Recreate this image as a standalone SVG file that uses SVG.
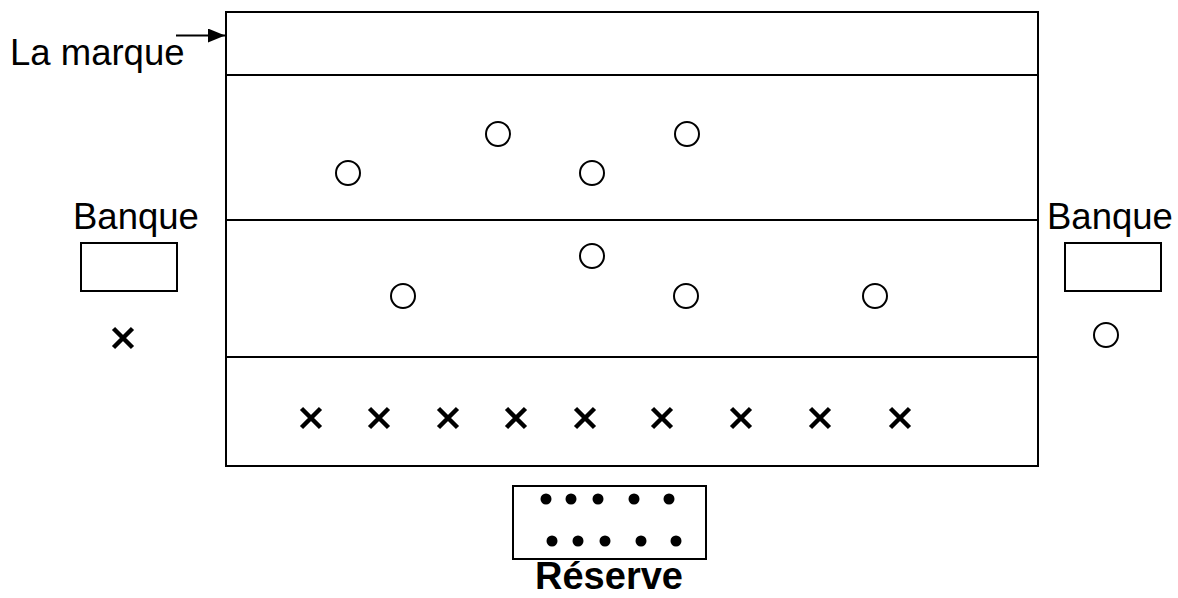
<svg xmlns="http://www.w3.org/2000/svg" width="1178" height="598" viewBox="0 0 1178 598">
  <defs>
    <marker id="arrow" viewBox="0 0 10 10" refX="10" refY="5" markerWidth="17" markerHeight="14" markerUnits="userSpaceOnUse" orient="auto" preserveAspectRatio="none">
      <path d="M0,0 L10,5 L0,10 Z" fill="#000"/>
    </marker>
    <g id="cross">
      <path d="M-9.5,-9.5 L9.5,9.5 M9.5,-9.5 L-9.5,9.5" stroke="#000" stroke-width="4.5" fill="none"/>
    </g>
  </defs>
  <style>
    .box { fill: #fff; stroke: #000; stroke-width: 2; }
    .line { stroke: #000; stroke-width: 2; fill: none; }
    .ring { fill: none; stroke: #000; stroke-width: 2; }
    .dot { fill: #000; }
    .label { font-family: "Liberation Sans", Arial, sans-serif; font-size: 36.5px; fill: #000; }
    .bold { font-weight: bold; font-size: 38px; }
  </style>
  <rect width="1178" height="598" fill="#fff"/>

  <!-- playing field with its bands -->
  <g id="field">
    <rect class="box" x="226" y="12" width="812" height="454"/>
    <line class="line" x1="226" y1="75" x2="1038" y2="75"/>
    <line class="line" x1="226" y1="220" x2="1038" y2="220"/>
    <line class="line" x1="226" y1="357" x2="1038" y2="357"/>
  </g>

  <g id="connectors">
    <line class="line" x1="176" y1="35.5" x2="225" y2="35.5" marker-end="url(#arrow)"/>
  </g>

  <g id="label-marque">
    <text class="label" x="10" y="65">La marque</text>
  </g>

  <!-- benches -->
  <g id="bench-left">
    <text class="label" x="73" y="229">Banque</text>
    <rect class="box" x="81" y="243" width="96" height="48"/>
    <use href="#cross" x="123" y="338"/>
  </g>
  <g id="bench-right">
    <text class="label" x="1047" y="229">Banque</text>
    <rect class="box" x="1065" y="243" width="96" height="48"/>
    <circle class="ring" cx="1106" cy="335" r="12"/>
  </g>

  <!-- players: circles -->
  <g id="circles">
    <circle class="ring" cx="348" cy="173" r="12"/>
    <circle class="ring" cx="498" cy="134" r="12"/>
    <circle class="ring" cx="592" cy="173" r="12"/>
    <circle class="ring" cx="687" cy="134" r="12"/>
    <circle class="ring" cx="592" cy="256" r="12"/>
    <circle class="ring" cx="403" cy="296" r="12"/>
    <circle class="ring" cx="686" cy="296" r="12"/>
    <circle class="ring" cx="875" cy="296" r="12"/>
  </g>

  <!-- players: crosses -->
  <g id="crosses">
    <use href="#cross" x="311" y="418"/>
    <use href="#cross" x="379" y="418"/>
    <use href="#cross" x="448" y="418"/>
    <use href="#cross" x="516" y="418"/>
    <use href="#cross" x="585" y="418"/>
    <use href="#cross" x="662" y="418"/>
    <use href="#cross" x="741" y="418"/>
    <use href="#cross" x="820" y="418"/>
    <use href="#cross" x="900" y="418"/>
  </g>

  <!-- reserve -->
  <g id="reserve">
    <rect class="box" x="513" y="486" width="193" height="73"/>
    <circle class="dot" cx="546" cy="499" r="5.5"/>
    <circle class="dot" cx="571" cy="499" r="5.5"/>
    <circle class="dot" cx="598" cy="499" r="5.5"/>
    <circle class="dot" cx="634" cy="499" r="5.5"/>
    <circle class="dot" cx="669" cy="499" r="5.5"/>
    <circle class="dot" cx="552" cy="541" r="5.5"/>
    <circle class="dot" cx="578" cy="541" r="5.5"/>
    <circle class="dot" cx="605" cy="541" r="5.5"/>
    <circle class="dot" cx="641" cy="541" r="5.5"/>
    <circle class="dot" cx="676" cy="541" r="5.5"/>
    <text class="label bold" x="609" y="589" text-anchor="middle">Réserve</text>
  </g>
</svg>
